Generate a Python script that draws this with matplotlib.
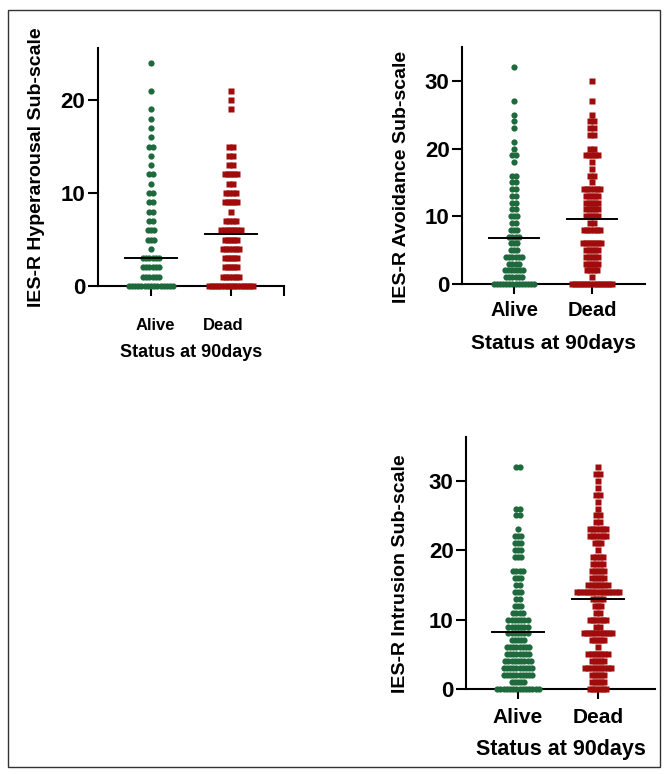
############################################################################################
import numpy as np
import matplotlib
matplotlib.use('Agg')
import matplotlib.pyplot as plt
import matplotlib.transforms as mtransforms
from matplotlib.patches import Rectangle

plt.rcParams['font.family'] = ['Liberation Sans', 'DejaVu Sans']
plt.rcParams['font.weight'] = 'bold'

############################################################################################
# data: number of patients at each integer score
groups      = ['Alive', 'Dead']
xlabel_text = 'Status at 90days'

hyper_scores  = np.arange(0, 25)
hyper_alive_n = [15, 6, 6, 6, 1, 3, 3, 2, 2, 2, 2, 1, 2, 1, 1, 2, 1, 1, 1, 1, 0, 1, 0, 0, 1]
hyper_dead_n  = [15, 6, 5, 5, 6, 5, 7, 4, 1, 5, 4, 2, 5, 2, 2, 2, 0, 0, 0, 1, 1, 1, 0, 0, 0]
hyper_means   = [3.0, 5.6]

avoid_scores  = np.arange(0, 33)
avoid_alive_n = [14, 6, 7, 4, 6, 3, 3, 4, 3, 2, 3, 2, 2, 2, 2, 2, 2, 0, 1, 2, 1, 1, 0, 1, 1, 1, 0, 1, 0, 0, 0, 0, 1]
avoid_dead_n  = [14, 1, 4, 5, 5, 5, 7, 0, 6, 2, 5, 5, 5, 5, 6, 1, 2, 1, 1, 5, 2, 0, 2, 2, 2, 1, 0, 1, 0, 0, 1, 0, 0]
avoid_means   = [6.8, 9.65]

intru_scores  = np.arange(0, 33)
intru_alive_n = [14, 5, 10, 10, 9, 8, 8, 5, 7, 7, 7, 4, 3, 2, 3, 2, 3, 4, 0, 3, 3, 3, 3, 1, 0, 2, 2, 0, 0, 0, 0, 0, 2]
intru_dead_n  = [6, 5, 5, 9, 5, 7, 1, 5, 10, 2, 6, 2, 3, 4, 14, 7, 5, 5, 4, 4, 1, 3, 6, 6, 2, 2, 1, 1, 2, 1, 1, 2, 1]
intru_means   = [8.2, 12.9]

GREEN = '#1e6a3d'
RED   = '#a00c0c'

############################################################################################
def swarm(ax, scores, counts, xc, marker, color, step=0.04, ms=4.5):
    # one row per score, points packed side by side around the group centre
    for v, n in zip(scores, counts):
        if n == 0: continue
        xs = xc + (np.arange(n) - (n - 1) / 2.0) * step
        ax.plot(xs, np.full(n, v), linestyle='none', marker=marker, ms=ms, mec='none', mfc=color, clip_on=False, zorder=3)

def panel(fig, rect, xlim, ylim, yticks, scores, alive_n, dead_n, means, ylabel,
          tick_fs, lab_fs, ytick_fs, xpad, lab_pad, ylab_xy, end_cap=False):
    ax = fig.add_axes(rect)
    swarm(ax, scores, alive_n, 0, 'o', GREEN)
    swarm(ax, scores, dead_n, 1, 's', RED, ms=4.3)
    for xc, m in enumerate(means):
        ax.plot([xc - 0.32, xc + 0.32], [m, m], color='black', lw=1.4, zorder=4)
    ax.set_xlim(*xlim)
    ax.set_ylim(*ylim)
    for s in ['top', 'right']: ax.spines[s].set_visible(False)
    for s in ['left', 'bottom']: ax.spines[s].set_linewidth(1.5)
    ax.set_yticks(yticks)
    ax.set_yticklabels([str(t) for t in yticks], fontsize=ytick_fs, fontweight='bold')
    if end_cap:
        ax.set_xticks([0, 1, xlim[1]])
        ax.set_xticklabels(groups + [''], fontsize=tick_fs, fontweight='bold')
    else:
        ax.set_xticks([0, 1])
        ax.set_xticklabels(groups, fontsize=tick_fs, fontweight='bold')
    ax.tick_params(axis='both', length=7, width=1.5, colors='black')
    ax.tick_params(axis='y', pad=2)
    ax.tick_params(axis='x', pad=xpad)
    ax.set_xlabel(xlabel_text, fontsize=lab_fs, fontweight='bold', labelpad=lab_pad)
    ax.set_ylabel(ylabel, fontsize=14, fontweight='bold', va='center')
    ax.yaxis.set_label_coords(*ylab_xy)
    return ax

############################################################################################
fig = plt.figure(figsize=(6.66, 7.74), dpi=100)

ax1 = panel(fig, [0.1471, 0.6305, 0.2793, 0.3075], (-0.6625, 1.6625), (0, 25.6), [0, 10, 20],
            hyper_scores, hyper_alive_n, hyper_dead_n, hyper_means, 'IES-R Hyperarousal Sub-scale',
            tick_fs=12, lab_fs=13, ytick_fs=16, xpad=16, lab_pad=8, ylab_xy=(-0.328, 0.5), end_cap=True)
# labels in the first panel sit slightly off their ticks
for lbl, dx in zip(ax1.get_xticklabels()[:2], [4, -8]):
    lbl.set_transform(lbl.get_transform() + mtransforms.ScaledTranslation(dx / 100, 0, fig.dpi_scale_trans))

panel(fig, [0.6937, 0.6331, 0.2748, 0.3062], (-0.667, 1.68), (0, 35), [0, 10, 20, 30],
      avoid_scores, avoid_alive_n, avoid_dead_n, avoid_means, 'IES-R Avoidance Sub-scale',
      tick_fs=14.5, lab_fs=15, ytick_fs=16, xpad=5, lab_pad=10, ylab_xy=(-0.333, 0.451))

panel(fig, [0.6997, 0.1098, 0.2838, 0.3256], (-0.65, 1.7125), (0, 36.3), [0, 10, 20, 30],
      intru_scores, intru_alive_n, intru_dead_n, intru_means, 'IES-R Intrusion Sub-scale',
      tick_fs=15, lab_fs=15.5, ytick_fs=16, xpad=7, lab_pad=8, ylab_xy=(-0.349, 0.456))

# thin frame round the whole picture
fig.patches.append(Rectangle((8 / 666, 1 - 767 / 774), 652 / 666, 757 / 774, transform=fig.transFigure,
                             fill=False, edgecolor='#333333', linewidth=1.0))

fig.savefig('out.png', dpi=100)
############################################################################################
